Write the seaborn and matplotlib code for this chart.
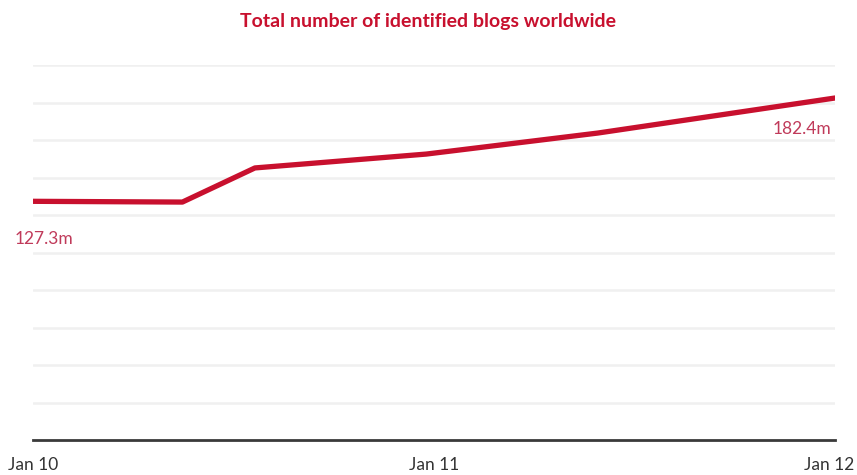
import matplotlib
matplotlib.use("Agg")
import matplotlib.pyplot as plt
import matplotlib.transforms as mtrans
import seaborn as sns
import pandas as pd

dates = ["2010-01-01", "2010-05-17", "2010-07-22", "2010-12-25", "2011-05-30", "2012-01-01"]
blogs_m = [127.3, 126.9, 145.1, 152.5, 163.7, 182.4]
tick_dates = ["2010-01-01", "2011-01-01", "2012-01-01"]
tick_labels = ["Jan 10", "Jan 11", "Jan 12"]
title = "Total number of identified blogs worldwide"

df = pd.DataFrame({"date": pd.to_datetime(dates), "blogs": blogs_m})

sns.set_theme(style="white")
plt.rcParams["font.family"] = ["Lato", "DejaVu Sans"]

red = "#c8102e"
fig = plt.figure(figsize=(8.57, 4.75), dpi=100)
ax = fig.add_axes([33/857, 1-440/475, (835-33)/857, (440-65)/475])

for v in range(20, 201, 20):
    ax.axhline(v, color="#f0f0f0", lw=1.8, zorder=0)

sns.lineplot(data=df, x="date", y="blogs", ax=ax, color=red, lw=3.8, zorder=3)

ax.set_xlim(pd.Timestamp(tick_dates[0]), pd.Timestamp(tick_dates[-1]))
ax.set_ylim(0, 200)
ax.set_xticks(pd.to_datetime(tick_dates))
ax.set_xticklabels(tick_labels, fontsize=12.5, color="#333333")
ax.set_yticks([])
ax.set_xlabel("")
ax.set_ylabel("")
ax.tick_params(axis="x", length=0, pad=12)
last = ax.get_xticklabels()[-1]
last.set_ha("right")
last.set_transform(last.get_transform() + mtrans.ScaledTranslation(19/100, 0, fig.dpi_scale_trans))
for s in ["top", "right", "left"]:
    ax.spines[s].set_visible(False)
ax.spines["bottom"].set_color("#3a3a3a")
ax.spines["bottom"].set_linewidth(2)

ax.annotate(f"{blogs_m[0]}m", (df["date"].iloc[0], blogs_m[0]), xytext=(8, -33),
            textcoords="offset points", ha="center", va="bottom",
            color="#c03a5a", fontsize=12.5, annotation_clip=False)
ax.annotate(f"{blogs_m[-1]}m", (df["date"].iloc[-1], blogs_m[-1]), xytext=(-24, -28),
            textcoords="offset points", ha="center", va="bottom",
            color="#c03a5a", fontsize=12.5, annotation_clip=False)

fig.text(0.5, 1-22/475, title, ha="center", va="center", color=red,
         fontsize=14, fontweight="bold")

fig.savefig("out.png", dpi=100, facecolor="white")
